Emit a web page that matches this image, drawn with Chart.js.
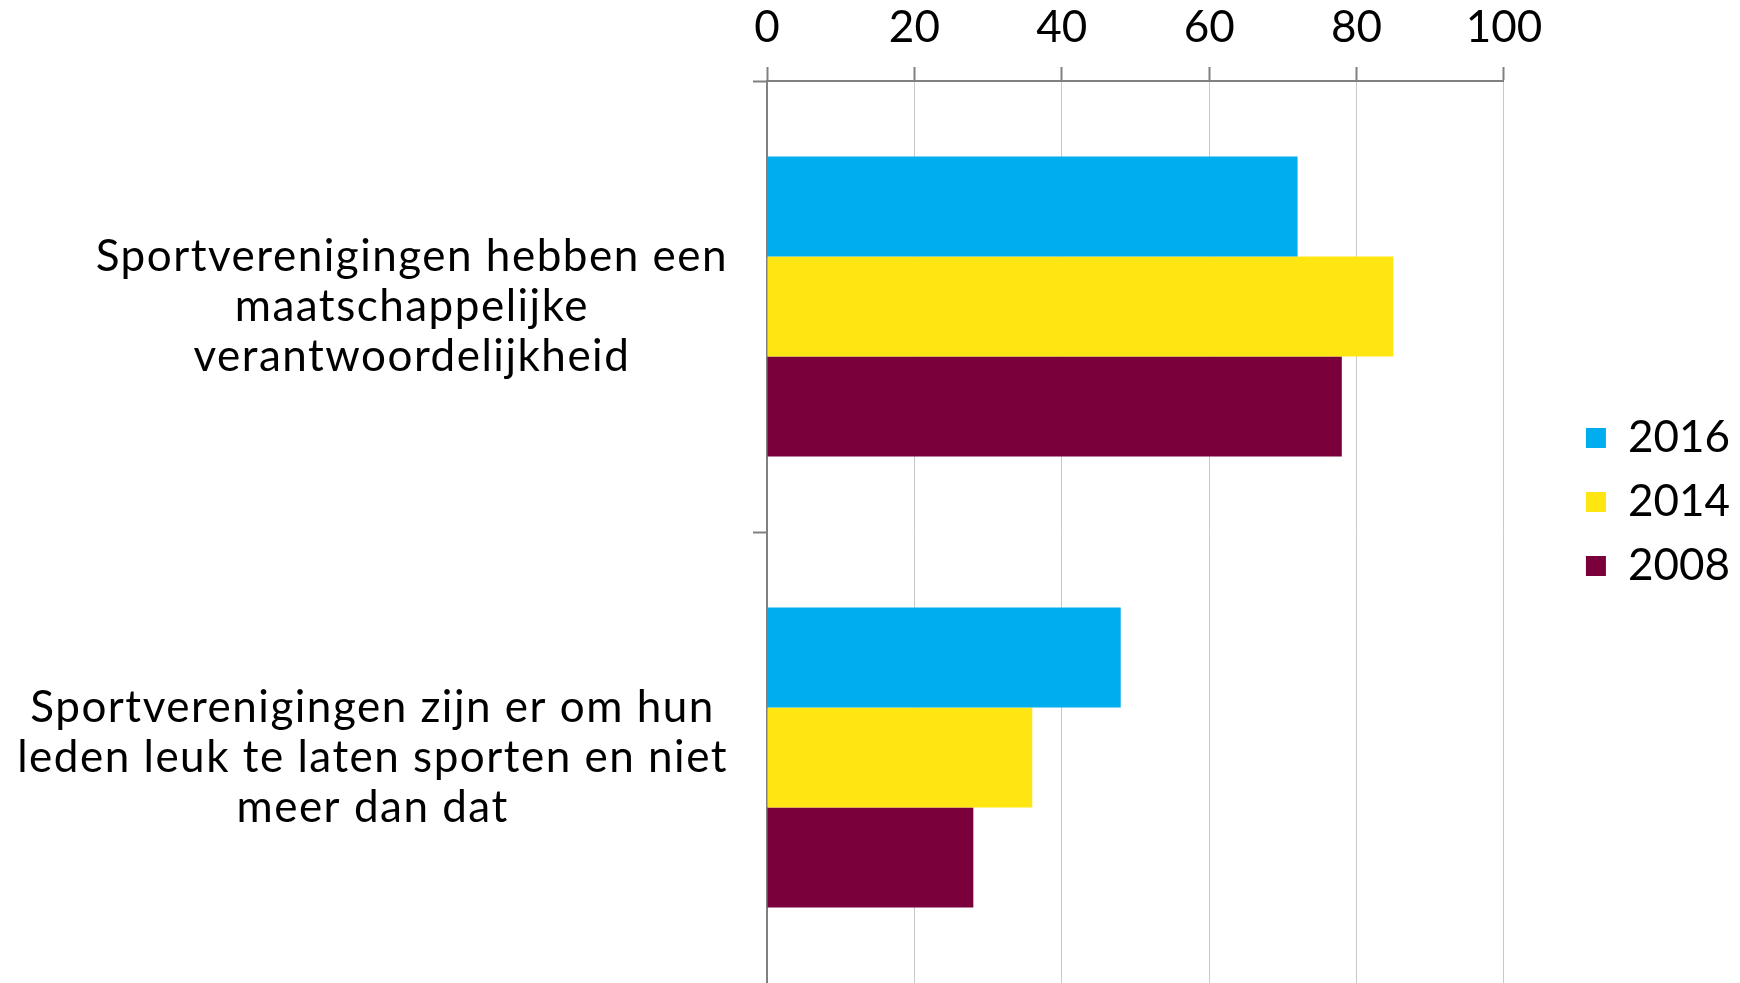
<!DOCTYPE html>
<html>
<head>
<meta charset="utf-8">
<script src="https://cdn.jsdelivr.net/npm/chart.js@4.4.0/dist/chart.umd.min.js"></script>
<style>
  html, body { margin: 0; padding: 0; background: #fff; }
  #wrap { width: 1740px; height: 983px; }
</style>
</head>
<body>
<div id="wrap"><canvas id="myChart"></canvas></div>
<script>
const categories = [
    ['Sportverenigingen hebben een', 'maatschappelijke', 'verantwoordelijkheid'],
    ['Sportverenigingen zijn er om hun', 'leden leuk te laten sporten en niet', 'meer dan dat']
];
const years = ['2016', '2014', '2008'];
const values2016 = [72, 48];
const values2014 = [85, 36];
const values2008 = [78, 28];
const xTicks = [0, 20, 40, 60, 80, 100];

const FONT = 'Lato';
const labelFont = { family: FONT, size: 44 };

// category labels: each block right-aligned, lines centered inside it
const catLabels = {
    id: 'catLabels',
    afterDraw(chart) {
        const ctx = chart.ctx;
        const yScale = chart.scales.y;
        const rightEdge = 728;
        const lineH = 50;
        ctx.save();
        ctx.font = labelFont.size + 'px ' + FONT;
        ctx.letterSpacing = '1.5px';
        ctx.fillStyle = '#000';
        ctx.textAlign = 'center';
        ctx.textBaseline = 'middle';
        categories.forEach((lines, i) => {
            const cy = yScale.getPixelForValue(i);
            const w = Math.max(...lines.map(l => ctx.measureText(l).width));
            const cx = rightEdge - w / 2;
            lines.forEach((l, j) => {
                ctx.fillText(l, cx, cy + (j - (lines.length - 1) / 2) * lineH);
            });
        });
        ctx.restore();
    }
};

const ctx = document.getElementById('myChart').getContext('2d');
const chart = new Chart(ctx, {
    type: 'bar',
    data: {
        labels: categories.map(c => c.join(' ')),
        datasets: [{
            label: years[0],
            data: values2016,
            backgroundColor: '#00AEEF'
        }, {
            label: years[1],
            data: values2014,
            backgroundColor: '#FFE512'
        }, {
            label: years[2],
            data: values2008,
            backgroundColor: '#7A003C'
        }]
    },
    options: {
        indexAxis: 'y',
        responsive: true,
        maintainAspectRatio: false,
        animation: false,
        layout: {
            padding: { top: -11, right: 0, bottom: 0, left: 0 }
        },
        datasets: {
            bar: {
                categoryPercentage: 0.665,
                barPercentage: 1,
                borderWidth: 0
            }
        },
        scales: {
            x: {
                position: 'top',
                min: 0,
                max: 100,
                afterBuildTicks: (scale) => {
                    scale.ticks = xTicks.map(v => ({ value: v }));
                },
                ticks: {
                    color: '#000',
                    font: { family: FONT, size: 44, lineHeight: 1 },
                    padding: 17,
                    maxRotation: 0
                },
                grid: {
                    color: '#c8c8c8',
                    tickColor: '#808080',
                    tickLength: 14,
                    lineWidth: 1,
                    tickWidth: 2
                },
                border: {
                    color: '#808080',
                    width: 2
                }
            },
            y: {
                ticks: { display: false },
                afterFit: (scale) => {
                    scale.width = 767;
                },
                grid: {
                    drawOnChartArea: false,
                    // only the top and middle tick marks, none at the bottom edge
                    tickColor: (c) => (c.index === 0 || c.index === 1) ? '#808080' : 'rgba(0,0,0,0)',
                    tickLength: 14,
                    tickWidth: 2
                },
                border: {
                    color: '#808080',
                    width: 2
                }
            },
            // empty axis used only as a gap between the bars and the legend
            gap: {
                type: 'linear',
                position: 'right',
                ticks: { display: false },
                grid: { display: false },
                border: { display: false },
                afterFit: (scale) => {
                    scale.width = 62;
                }
            }
        },
        plugins: {
            legend: {
                position: 'right',
                title: {
                    display: true,
                    text: ' ',
                    font: { size: 10, lineHeight: 1 },
                    padding: { top: 11, bottom: 11 }
                },
                labels: {
                    color: '#000',
                    font: labelFont,
                    boxWidth: 20,
                    boxHeight: 20,
                    padding: 20
                }
            },
            tooltip: { enabled: false }
        }
    },
    plugins: [catLabels]
});
</script>
</body>
</html>
